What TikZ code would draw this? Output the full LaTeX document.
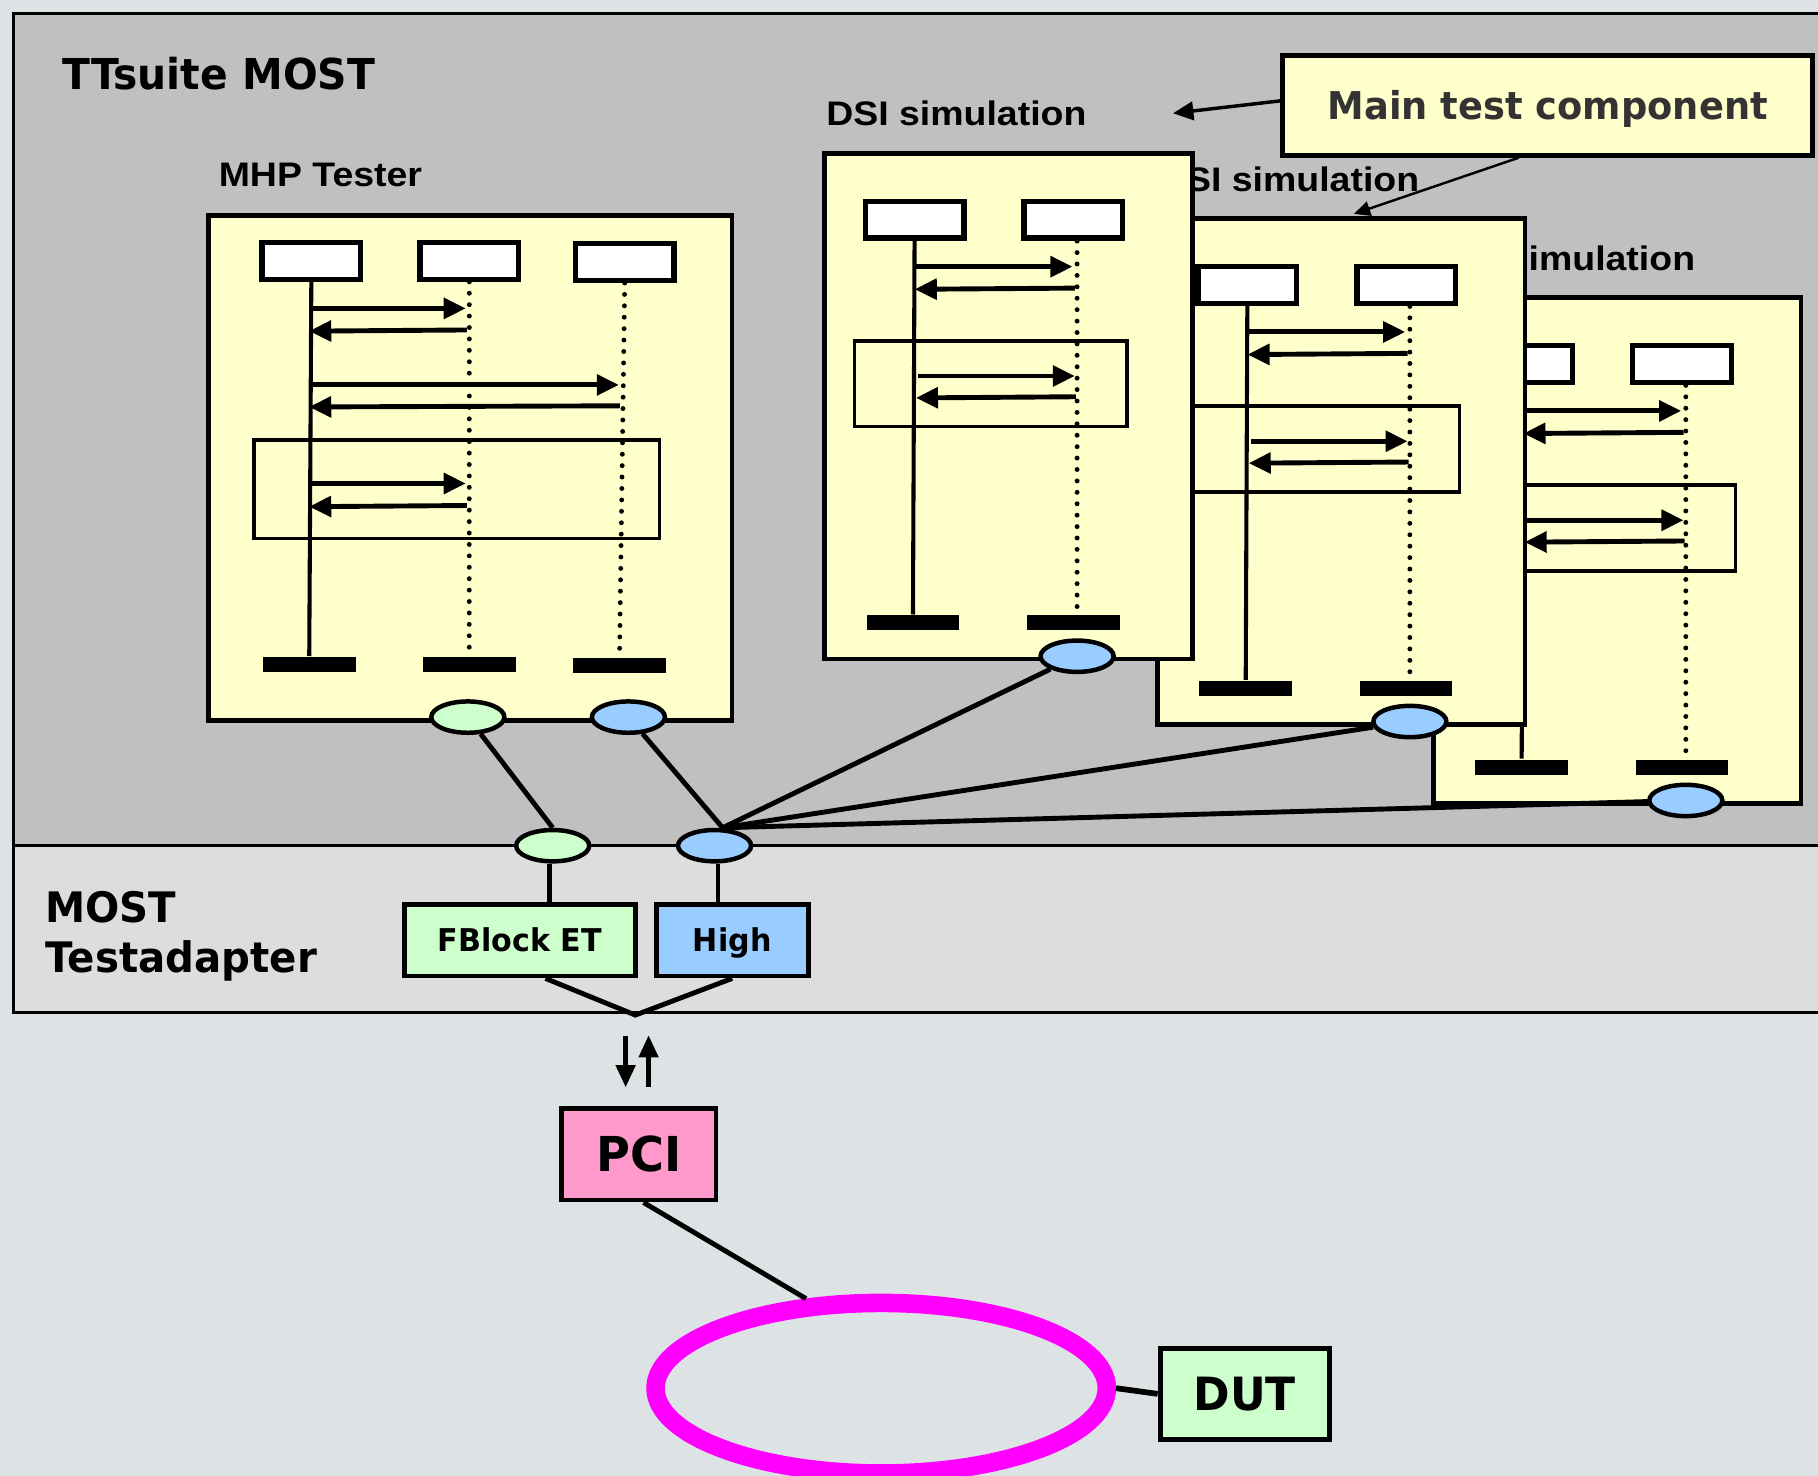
\documentclass[tikz,border=0pt]{standalone}
\usepackage{fontspec}
\usetikzlibrary{arrows.meta,shapes.geometric,calc}
\newfontfamily\myvf[FakeStretch=0.96]{DejaVu Sans}
\newfontfamily\myaf[FakeStretch=1.1]{Liberation Sans}
\definecolor{bgout}{RGB}{221,227,229}
\definecolor{upgray}{RGB}{192,192,192}
\definecolor{lowgray}{RGB}{221,221,221}
\definecolor{lyellow}{RGB}{255,255,204}
\definecolor{lgreen}{RGB}{204,255,204}
\definecolor{lblue}{RGB}{153,204,255}
\definecolor{lpink}{RGB}{255,153,204}
\definecolor{ringc}{RGB}{255,0,255}
\definecolor{dtext}{RGB}{51,51,51}
\tikzset{
  ybox/.style={draw, fill=lyellow, line width=1.2pt, inner sep=0pt, anchor=north west},
  hdr/.style={draw, fill=white, line width=1.3pt, inner sep=0pt, anchor=north west, minimum width=0.85cm, minimum height=0.315cm},
  endbar/.style={fill=black, inner sep=0pt, anchor=north west, minimum width=0.8cm, minimum height=0.13cm},
  life/.style={line width=1pt},
  dotline/.style={line width=1.2pt, line cap=round, dash pattern=on 0pt off 2.8pt},
  msg/.style={line width=1.2pt, -{Triangle[length=5.4pt,width=5pt]}},
  frag/.style={line width=0.85pt},
  port/.style={ellipse, draw, line width=1.1pt, inner sep=0pt, minimum width=0.63cm, minimum height=0.27cm},
  conn/.style={line width=1.2pt},
  lbl/.style={inner sep=0pt, anchor=base west, font=\myaf\bfseries\fontsize{8.35pt}{10pt}\selectfont},
  vlbl/.style={inner sep=0pt, anchor=base west, font=\myvf\bfseries\fontsize{10.3pt}{12pt}\selectfont},
  tbox/.style={draw, line width=1.2pt, inner sep=0pt},
  ptrA/.style={line width=0.85pt, -{Triangle[length=5pt,width=4.5pt]}},
  ptrB/.style={line width=0.6pt, -{Triangle[length=4pt,width=3.6pt]}},
  dblarrow/.style={line width=1.3pt, -{Triangle[length=5.5pt,width=4.6pt]}},
  pics/dsi/.style={code={
    \node[lbl] (-label) at (3,-21.5) {DSI simulation};
    \node[ybox, minimum width=3.17cm, minimum height=4.36cm] (-box) at (0,0) {};
    \node[hdr] (-h1) at (35,41.5) {};
    \node[hdr] (-h2) at (172,41.5) {};
    \node[endbar] (-e1) at (37.7,400) {};
    \node[endbar] (-e2) at (176,400) {};
    \draw[life] (-h1.south) -- (-e1.north);
    \draw[dotline] (220,78) -- (220,400);
    \draw[msg] (80,100) -- (216,100);
    \draw[msg] (218,118.5) -- (80,119.5);
    \draw[frag] (28,164) rectangle (263,238);
    \draw[msg] (83,194.3) -- (218,194.3);
    \draw[msg] (219,212.2) -- (81,213.2);
    \node[port, fill=lblue] (-port) at (220,436) {};
  }}
}
\begin{document}
\begin{tikzpicture}[x=0.01cm, y=-0.01cm]
\useasboundingbox (0,0) rectangle (1568,1273);
\clip (0,0) rectangle (1568,1273);
\fill[bgout] (0,0) rectangle (1568,1273);
\draw[line width=0.75pt, fill=upgray] (11.5,11.5) rectangle (1600,729.5);
\draw[line width=0.75pt, fill=lowgray] (11.5,729.5) rectangle (1600,873);

\node[vlbl, font=\myvf\bfseries\fontsize{10.44pt}{12pt}\selectfont] (title) at (53,77) {TTsuite MOST};
\node[vlbl] (most1) at (38.6,796) {MOST};
\node[vlbl] (most2) at (38.6,839) {Testadapter};

% MHP Tester
\node[lbl] (mhplabel) at (188,161) {MHP Tester};
\begin{scope}[shift={(177.7,184)}]
  \node[ybox, minimum width=4.513cm, minimum height=4.35cm] (mhp) at (0,0) {};
  \node[hdr] (mh1) at (46,23) {};
  \node[hdr] (mh2) at (182.3,23) {};
  \node[hdr] (mh3) at (316.3,24) {};
  \node[endbar] (me1) at (48.3,381.8) {};
  \node[endbar] (me2) at (186.3,381.8) {};
  \node[endbar] (me3) at (315.9,382.5) {};
  \draw[life] (mh1.south) -- (me1.north);
  \draw[dotline] (mh2.south) -- (me2.north);
  \draw[dotline] (mh3.south) -- (me3.north);
  \draw[msg] (90,82) -- (224,82);
  \draw[msg] (225,100.6) -- (89,101.6);
  \draw[msg] (90,148) -- (356,148);
  \draw[msg] (357,166) -- (89,167);
  \draw[frag] (41.3,195.5) rectangle (391.3,280.3);
  \draw[msg] (91,233) -- (224,233);
  \draw[msg] (225,252) -- (89,253);
  \node[port, fill=lgreen] (mg) at (225.8,434.5) {};
  \node[port, fill=lblue] (mb) at (364.3,434.5) {};
\end{scope}

% DSI simulations (back to front)
\pic (d3) at (1234,254.4) {dsi};
\pic (d2) at (996,186.3) {dsi};
\pic (d1) at (709,130) {dsi};

% main test component
\node[tbox, fill=lyellow, minimum width=4.57cm, minimum height=0.857cm, text=dtext,
      text height=6.9pt, text depth=0pt,
      font=\myvf\bfseries\fontsize{9.4pt}{11pt}\selectfont] (main) at (1335,91) {Main test component};
\coordinate (p1) at (1011.7,97.7);
\coordinate (p2) at (1167.7,184.5);
\draw[ptrA] ($(main.west)+(0,-4)$) -- (p1);
\draw[ptrB] ($(main.south)+(-25,0)$) -- (p2);

% test adapter ports and connections
\node[port, fill=lgreen] (lg) at (476.7,729.4) {};
\node[port, fill=lblue] (lb) at (616.3,729.4) {};
\coordinate (hub) at ($(lb.north)+(7,0)$);
\draw[conn] (mg) -- (lg.north);
\draw[conn] (mb) -- (hub);
\draw[conn] (d1-port) -- (hub);
\draw[conn] (d2-port) -- (hub);
\draw[conn] (d3-port) -- (hub);

\node[tbox, fill=lgreen, minimum width=1.99cm, minimum height=0.615cm,
      text height=5.6pt, text depth=0pt,
      font=\myvf\bfseries\fontsize{7.7pt}{9pt}\selectfont] (fb) at (448.5,811) {FBlock ET};
\node[tbox, fill=lblue, minimum width=1.31cm, minimum height=0.615cm,
      text height=5.6pt, text depth=0pt,
      font=\myvf\bfseries\fontsize{7.7pt}{9pt}\selectfont] (hi) at (631.5,811) {High};
\draw[conn] ($(lg.south)+(-3,0)$) -- ($(lg.south |- fb.north)+(-3,0)$);
\draw[conn] ($(lb.south)+(3,0)$) -- ($(lb.south |- hi.north)+(3,0)$);
\coordinate (vv) at (548,875.5);
\draw[conn] ($(fb.south)+(22,0)$) -- (vv) -- (hi.south);

\coordinate (a1s) at (539.6,893.6);
\coordinate (a1e) at (539.6,938);
\coordinate (a2s) at (559.4,937.2);
\coordinate (a2e) at (559.4,892.7);
\draw[dblarrow] (a1s) -- (a1e);
\draw[dblarrow] (a2s) -- (a2e);

\node[tbox, fill=lpink, minimum width=1.33cm, minimum height=0.79cm,
      font=\myvf\bfseries\fontsize{11.8pt}{13pt}\selectfont] (pci) at (551,995.5) {PCI};
\node[ellipse, draw=ringc, line width=4.55pt, minimum width=3.89cm, minimum height=1.47cm, inner sep=0pt] (ring) at (760,1197.3) {};
\node[tbox, fill=lgreen, minimum width=1.46cm, minimum height=0.78cm,
      font=\myvf\bfseries\fontsize{11.24pt}{13pt}\selectfont] (dut) at (1073.6,1202.2) {DUT};
\draw[conn] ($(pci.south)+(4,0)$) -- (ring.130);
\draw[line width=1.4pt] (ring.east) -- (dut.west);
\end{tikzpicture}
\end{document}
